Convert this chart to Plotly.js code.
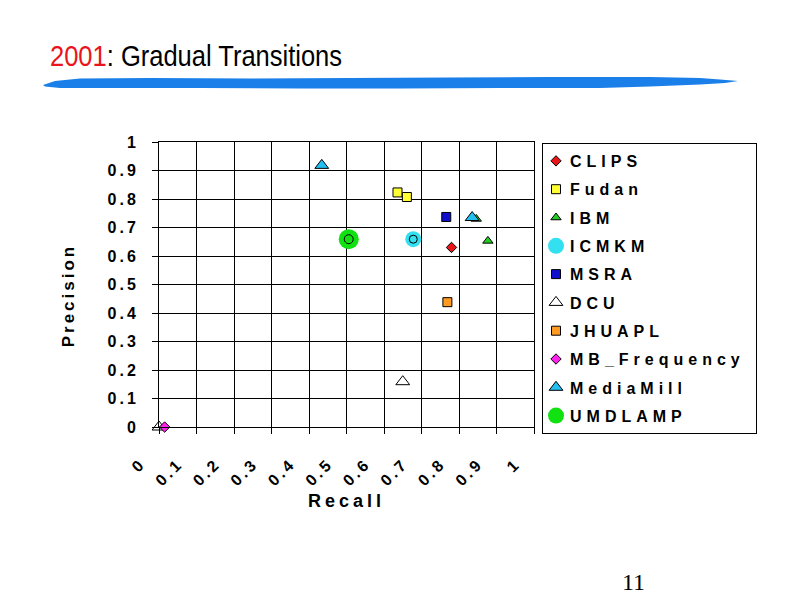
<!DOCTYPE html>
<html>
<head>
<meta charset="utf-8">
<script src="https://cdn.plot.ly/plotly-3.0.1.min.js"></script>
<style>
  html, body { margin: 0; padding: 0; background: #fff; }
  #chart { width: 800px; height: 600px; }
  .xtick text, .ytick text, .g-ytitle text { letter-spacing: 3px; }
  .g-xtitle text { letter-spacing: 4px; }
  .legendtext { letter-spacing: 5px; transform: translateX(-6px); }
  .g-ytitle { transform: translate(4px, 11px); }
  .gtitle { transform-box: view-box; transform-origin: 50px 0px; transform: scaleX(0.88); }
</style>
</head>
<body>
<div id="chart"></div>
<script>
// ---- Data ----
const seriesNames = ['CLIPS', 'Fudan', 'IBM', 'ICMKM', 'MSRA', 'DCU', 'JHUAPL', 'MB_Frequency', 'MediaMill', 'UMDLAMP'];

const clipsRecall = [0.78];          const clipsPrecision = [0.63];
const fudanRecall = [0.636, 0.661];  const fudanPrecision = [0.823, 0.807];
const ibmRecall = [0.846, 0.877];    const ibmPrecision = [0.73, 0.653];
const icmkmRecall = [0.678];         const icmkmPrecision = [0.659];
const msraRecall = [0.766];          const msraPrecision = [0.737];
const dcuRecall = [0.0, 0.65];       const dcuPrecision = [0.0, 0.159];
const jhuaplRecall = [0.769];        const jhuaplPrecision = [0.438];
const mbRecall = [0.015];            const mbPrecision = [0.0];
const mediamillRecall = [0.434, 0.835]; const mediamillPrecision = [0.918, 0.735];
const umdRecall = [0.506];           const umdPrecision = [0.659];

const axisTickVals = [0, 0.1, 0.2, 0.3, 0.4, 0.5, 0.6, 0.7, 0.8, 0.9, 1];
const axisTickText = ['0', '0.1', '0.2', '0.3', '0.4', '0.5', '0.6', '0.7', '0.8', '0.9', '1'];

// ---- Layout helpers ----
const W = 800, H = 600;
const M = { l: 159, r: 266, t: 142, b: 173 };
const PW = W - M.l - M.r, PH = H - M.t - M.b;
function px(x) { return (x - M.l) / PW; }
function py(y) { return (H - M.b - y) / PH; }

const FONT = 'Liberation Sans, Arial, Helvetica, sans-serif';
const OUT = { color: '#000', width: 1 };

function mk(name, xs, ys, symbol, size, color, line, extra) {
  return Object.assign({
    type: 'scatter', mode: 'markers', name: name, x: xs, y: ys,
    cliponaxis: false, legendgroup: name,
    marker: { symbol: symbol, size: size, color: color, line: line }
  }, extra || {});
}

const traces = [
  mk(seriesNames[0], clipsRecall, clipsPrecision, 'diamond', 8, '#e8161b', OUT),
  mk(seriesNames[1], fudanRecall, fudanPrecision, 'square', 9, '#ffff33', OUT),
  mk(seriesNames[2], ibmRecall, ibmPrecision, 'triangle-up', 9, '#22cc22', OUT),
  mk(seriesNames[3], icmkmRecall, icmkmPrecision, 'circle', 16, '#33e0f0', { width: 0 }),
  mk(seriesNames[4], msraRecall, msraPrecision, 'square', 9, '#1010cc', OUT),
  mk(seriesNames[5], dcuRecall, dcuPrecision, 'triangle-up', 12, '#ffffff', OUT),
  mk(seriesNames[6], jhuaplRecall, jhuaplPrecision, 'square', 9, '#ff9a22', OUT),
  mk(seriesNames[7], mbRecall, mbPrecision, 'diamond', 8, '#ff22ee', OUT),
  mk(seriesNames[8], mediamillRecall, mediamillPrecision, 'triangle-up', 12, '#22bff0', OUT),
  mk(seriesNames[9], umdRecall, umdPrecision, 'circle', 20, '#11e011', { width: 0 }),
  // inner rings of the halo markers
  mk(seriesNames[3], icmkmRecall, icmkmPrecision, 'circle', 8, '#33e0f0', OUT, { showlegend: false }),
  mk(seriesNames[9], umdRecall, umdPrecision, 'circle', 9, '#11e011', OUT, { showlegend: false })
];

// brush stroke under the title (pixel outline -> paper coordinates)
const strokePts = [
  [43,85],[55,81],[80,78.5],[150,78],[250,78.5],[350,78],[450,77.5],[550,77],[650,77],[700,78],[720,79.5],[738,81],
  [725,83],[700,84.5],[650,86.5],[600,88],[500,88],[400,88.5],[300,88.5],[200,88],[100,88],[60,88],[45,86.5]
];
const strokePath = strokePts.map((p, i) => (i ? 'L' : 'M') + px(p[0]).toFixed(4) + ',' + py(p[1]).toFixed(4)).join(' ') + ' Z';

const axisCommon = {
  range: [0, 1], autorange: false, fixedrange: true,
  tickvals: axisTickVals, ticktext: axisTickText,
  showgrid: true, gridcolor: '#000', gridwidth: 1,
  showline: true, linecolor: '#000', linewidth: 1, mirror: true,
  zeroline: false, ticks: 'outside', ticklen: 6, tickcolor: '#000', tickwidth: 1,
  tickfont: { family: FONT, size: 16, color: '#000', weight: 'bold' }
};

const layout = {
  width: W, height: H,
  margin: M,
  paper_bgcolor: '#fff', plot_bgcolor: '#fff',
  showlegend: true,
  title: {
    text: '<span style="color:#e8161b">2001</span>: Gradual Transitions',
    font: { family: FONT, size: 29, color: '#000' },
    xref: 'container', yref: 'container', x: 50 / W, xanchor: 'left', y: 1 - 56 / H, yanchor: 'middle'
  },
  xaxis: Object.assign({}, axisCommon, {
    tickangle: -45, ticklabelstandoff: 14, ticklabelshift: -18,
    title: { text: 'Recall', font: { family: FONT, size: 18, color: '#000', weight: 'bold' }, standoff: 6 }
  }),
  yaxis: Object.assign({}, axisCommon, {
    ticklabelstandoff: 10,
    title: { text: 'Precision', font: { family: FONT, size: 17, color: '#000', weight: 'bold' }, standoff: 32 }
  }),
  legend: {
    x: px(542), y: py(143), xanchor: 'left', yanchor: 'top',
    bgcolor: '#fff', bordercolor: '#000', borderwidth: 1,
    font: { family: FONT, size: 16, color: '#000', weight: 'bold' },
    tracegroupgap: 4.5, itemwidth: 30, indentation: -7, maxheight: 400
  },
  shapes: [
    { type: 'path', xref: 'paper', yref: 'paper', path: strokePath, fillcolor: '#1a7fe8', line: { width: 0 } }
  ],
  annotations: [
    { text: '11', xref: 'paper', yref: 'paper', x: px(633), y: py(582), xanchor: 'center', yanchor: 'middle',
      showarrow: false, font: { family: 'Liberation Serif, Times New Roman, serif', size: 24, color: '#000' } }
  ]
};

Plotly.newPlot('chart', traces, layout, { displayModeBar: false, staticPlot: true });
</script>
</body>
</html>
